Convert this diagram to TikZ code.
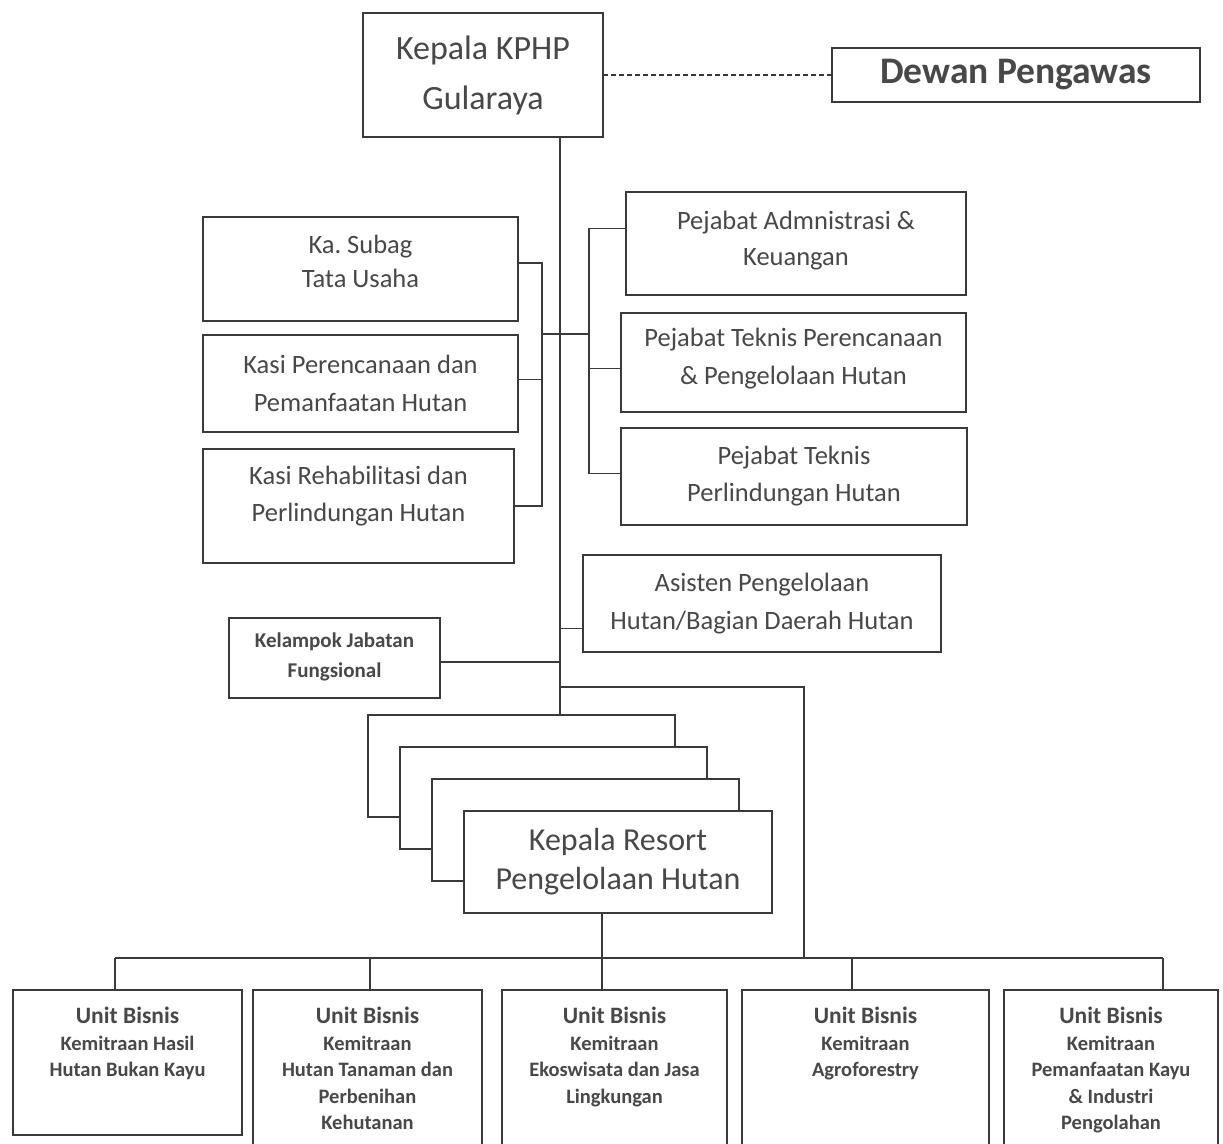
\documentclass[tikz,border=0pt]{standalone}
\usepackage{fontspec}
\setmainfont{Carlito}
\frenchspacing
\definecolor{lc}{RGB}{58,58,58}
\definecolor{tc}{RGB}{72,72,72}
\newcommand{\ubhead}{\fontsize{23.5}{27}\selectfont Unit Bisnis}
\begin{document}
\begin{tikzpicture}[x=1pt,y=-1pt,
  box/.style={draw=lc, line width=1.9pt, fill=white, rectangle, inner sep=0pt, outer sep=0pt, anchor=north west},
  ln/.style={draw=lc, line width=1.9pt},
  txt/.style={text=tc, align=center, inner sep=0pt},
  bigtxt/.style={font=\fontsize{34}{50}\selectfont},
  midtxt/.style={font=\fontsize{26.5}{38}\selectfont},
  unittxt/.style={txt, anchor=north, yshift=-17pt, font=\bfseries\fontsize{20.5}{26.5}\selectfont},
]
\clip (0,0) rectangle (1223,1143);
\fill[white] (0,0) rectangle (1223,1143);

% coordinates for connector lines
\coordinate (tx) at (560,0);
\coordinate (lbx) at (542,0);
\coordinate (rbx) at (589,0);
\coordinate (bx) at (804,0);
\coordinate (midy) at (0,334);
\coordinate (rly) at (0,687);
\coordinate (busy) at (0,958);
\coordinate (c1) at (115,0);
\coordinate (c2) at (370,0);
\coordinate (c3) at (602,0);
\coordinate (c4) at (852,0);
\coordinate (c5) at (1163,0);

% boxes
\node[box, minimum width=240pt, minimum height=124pt] (kphp) at (363,13) {};
\node[box, minimum width=368pt, minimum height=54pt] (dewan) at (832,48) {};
\node[box, minimum width=315pt, minimum height=104pt] (ks) at (203,217) {};
\node[box, minimum width=315pt, minimum height=97pt] (kp) at (203,335) {};
\node[box, minimum width=311pt, minimum height=114pt] (kr) at (203,449) {};
\node[box, minimum width=340pt, minimum height=103pt] (pa) at (626,192) {};
\node[box, minimum width=345pt, minimum height=99pt] (pt) at (621,313) {};
\node[box, minimum width=346pt, minimum height=97pt] (pl) at (621,428) {};
\node[box, minimum width=358pt, minimum height=97pt] (as) at (583,555) {};
\node[box, minimum width=211pt, minimum height=80pt] (kj) at (229,618) {};
\node[box, minimum width=307pt, minimum height=102pt] (rs1) at (368,715) {};
\node[box, minimum width=307pt, minimum height=102pt] (rs2) at (400,747) {};
\node[box, minimum width=307pt, minimum height=102pt] (rs3) at (432,779) {};
\node[box, minimum width=308pt, minimum height=102pt] (rs4) at (464,811) {};
\node[box, minimum width=229pt, minimum height=145pt] (ub1) at (13,990) {};
\node[box, minimum width=229pt, minimum height=170pt] (ub2) at (253,990) {};
\node[box, minimum width=225pt, minimum height=170pt] (ub3) at (502,990) {};
\node[box, minimum width=247pt, minimum height=170pt] (ub4) at (742,990) {};
\node[box, minimum width=214pt, minimum height=170pt] (ub5) at (1004,990) {};

% texts
\node[txt, bigtxt] (kphp-t) at (kphp.center) {Kepala KPHP\\Gularaya};
\node[txt, font=\bfseries\fontsize{37.5}{40}\selectfont] (dewan-t) at (dewan.center) {Dewan Pengawas};
\node[txt, font=\fontsize{26.5}{34}\selectfont, yshift=8pt] (ks-t) at (ks.center) {Ka. Subag\\Tata Usaha};
\node[txt, midtxt] (kp-t) at (kp.center) {Kasi Perencanaan dan\\Pemanfaatan Hutan};
\node[txt, font=\fontsize{26.5}{37}\selectfont, yshift=10pt] (kr-t) at (kr.center) {Kasi Rehabilitasi dan\\Perlindungan Hutan};
\node[txt, font=\fontsize{26.5}{36}\selectfont, yshift=3pt] (pa-t) at (pa.center) {Pejabat Admnistrasi \&\\Keuangan};
\node[txt, midtxt, yshift=4pt] (pt-t) at (pt.center) {Pejabat Teknis Perencanaan\\\& Pengelolaan Hutan};
\node[txt, font=\fontsize{26.5}{37}\selectfont] (pl-t) at (pl.center) {Pejabat Teknis\\Perlindungan Hutan};
\node[txt, midtxt] (as-t) at (as.center) {Asisten Pengelolaan\\Hutan/Bagian Daerah Hutan};
\node[txt, font=\bfseries\fontsize{21}{30}\selectfont, yshift=1pt] (kj-t) at (kj.center) {Kelampok Jabatan\\Fungsional};
\node[txt, font=\fontsize{32}{39}\selectfont] (rs-t) at (rs4.center) {Kepala Resort\\Pengelolaan Hutan};

\node[unittxt] (ub1-t) at (ub1.north) {\ubhead\\Kemitraan Hasil\\Hutan Bukan Kayu};
\node[unittxt] (ub2-t) at (ub2.north) {\ubhead\\Kemitraan\\Hutan Tanaman dan\\Perbenihan\\Kehutanan};
\node[unittxt] (ub3-t) at (ub3.north) {\ubhead\\Kemitraan\\Ekoswisata dan Jasa\\Lingkungan};
\node[unittxt] (ub4-t) at (ub4.north) {\ubhead\\Kemitraan\\Agroforestry};
\node[unittxt] (ub5-t) at (ub5.north) {\ubhead\\Kemitraan\\Pemanfaatan Kayu\\\& Industri\\Pengolahan};

% connectors
\draw[ln] (kphp.south -| tx) -- (rs1.north -| tx);
\draw[ln, dashed, dash pattern=on 5pt off 3pt] (kphp.east |- dewan.west) -- (dewan.west);
\draw[ln] ([yshift=6pt]ks.east) -- ([yshift=6pt]ks.east -| lbx) -- (kr.east -| lbx) -- (kr.east);
\draw[ln] ([yshift=4pt]kp.east) -- ([yshift=4pt]kp.east -| lbx);
\draw[ln] (lbx |- midy) -- (rbx |- midy);
\draw[ln] ([yshift=15pt]pa.west) -- ([yshift=15pt]pa.west -| rbx) -- ([yshift=3pt]pl.west -| rbx) -- ([yshift=3pt]pl.west);
\draw[ln] ([yshift=-6pt]pt.west) -- ([yshift=-6pt]pt.west -| rbx);
\draw[ln] ([yshift=-25pt]as.west) -- ([yshift=-25pt]as.west -| tx);
\draw[ln] ([yshift=-4pt]kj.east) -- ([yshift=-4pt]kj.east -| tx);
\draw[ln] (tx |- rly) -- (bx |- rly) -- (bx |- busy);
\draw[ln] (c1 |- busy) -- (c5 |- busy);
\draw[ln] (c1 |- busy) -- (ub1.north -| c1);
\draw[ln] (c2 |- busy) -- (ub2.north -| c2);
\draw[ln] (rs4.south -| c3) -- (ub3.north -| c3);
\draw[ln] (c4 |- busy) -- (ub4.north -| c4);
\draw[ln] (c5 |- busy) -- (ub5.north -| c5);
\end{tikzpicture}
\end{document}
